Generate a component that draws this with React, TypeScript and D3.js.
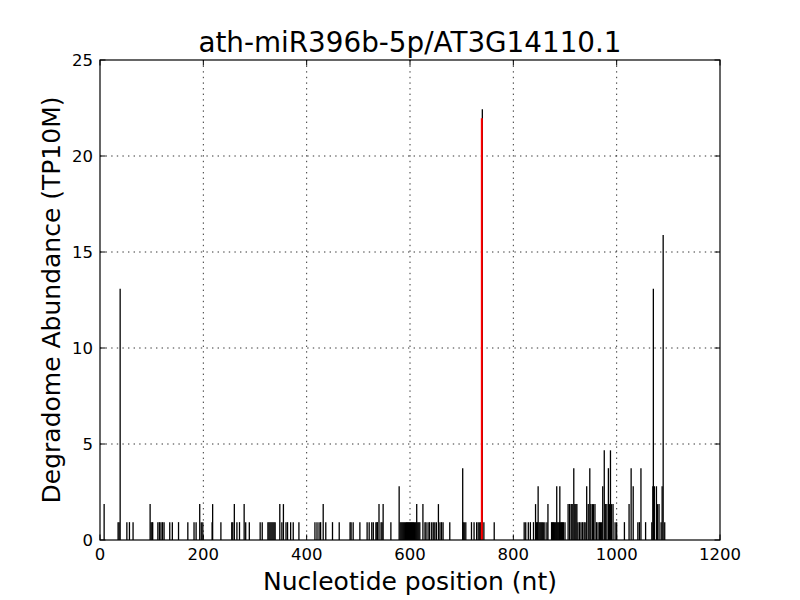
import React from "react";
import * as d3 from "d3";

const title = "ath-miR396b-5p/AT3G14110.1";
const xLabel = "Nucleotide position (nt)";
const yLabel = "Degradome Abundance (TP10M)";
const xTicks = [0, 200, 400, 600, 800, 1000, 1200];
const yTicks = [0, 5, 10, 15, 20, 25];

// nucleotide positions and abundance (TP10M)
const positions = [
  8, 35, 37, 39, 52, 57, 64, 97, 99, 101, 102, 112, 115, 118, 121, 124, 135, 140, 152, 170,
  182, 186, 193, 196, 199, 217, 218, 234, 255, 257, 260, 265, 270, 279, 282, 289, 310, 314,
  325, 327, 329, 331, 333, 335, 337, 339, 348, 352, 355, 360, 363, 369, 374, 385,
  416, 420, 424, 427, 432, 437, 450, 463, 484, 486, 490, 503, 517, 521, 526, 529,
  534, 536, 537, 540, 544, 546, 548, 563, 579,
  581, 583, 585, 587, 589, 591, 593, 595, 597, 599, 601, 603, 605, 607, 609, 611, 613, 615, 617, 619,
  625, 629, 631, 635, 638, 642, 645, 648, 651, 655, 658, 661, 664, 677, 702, 703, 705, 708,
  719, 724, 729, 732, 735, 737, 740, 743, 763,
  821, 824, 829, 833, 839, 843, 845, 847, 848, 850, 852, 854, 856, 858, 861, 865, 867,
  874, 876, 878, 880, 882, 884, 885, 887, 889, 890, 891, 893, 895, 897, 900,
  906, 909, 912, 914, 917, 919, 921, 923, 925, 928, 931, 934, 937, 939, 942, 945, 948,
  950, 953, 955, 958, 961, 964, 967, 969, 971, 973, 976, 978, 981, 984, 986, 988, 990, 993, 997,
  1000, 1015, 1024, 1028, 1032, 1041, 1044, 1047, 1056, 1068, 1070, 1071, 1073, 1077,
  1079, 1082, 1086, 1088, 1090, 1093,
];
const abundance = [
  1.87, 0.93, 0.93, 13.08, 0.93, 0.93, 0.93, 1.87, 0.93, 0.93, 0.93, 0.93, 0.93, 0.93, 0.93, 0.93, 0.93, 0.93, 0.93, 0.93,
  0.93, 0.93, 1.87, 0.93, 0.93, 0.93, 1.87, 0.93, 0.93, 0.93, 1.87, 0.93, 0.93, 1.87, 0.93, 0.93, 0.93, 0.93,
  0.93, 0.93, 0.93, 0.93, 0.93, 0.93, 0.93, 0.93, 1.87, 0.93, 1.87, 0.93, 0.93, 0.93, 0.93, 0.93,
  0.93, 0.93, 0.93, 0.93, 1.87, 0.93, 0.93, 0.93, 0.93, 0.93, 0.93, 0.93, 0.93, 0.93, 0.93, 0.93,
  0.93, 0.93, 0.93, 1.87, 0.93, 0.93, 1.87, 0.93, 2.8,
  0.93, 0.93, 0.93, 0.93, 0.93, 0.93, 0.93, 0.93, 0.93, 0.93, 0.93, 0.93, 0.93, 0.93, 0.93, 0.93, 1.87, 0.93, 0.93, 0.93,
  1.87, 0.93, 0.93, 0.93, 0.93, 0.93, 0.93, 0.93, 0.93, 1.87, 0.93, 0.93, 0.93, 0.93, 3.74, 0.93, 0.93, 0.93,
  0.93, 0.93, 0.93, 0.93, 0.93, 0.93, 22.43, 0.93, 0.93,
  0.93, 0.93, 0.93, 0.93, 0.93, 1.87, 0.93, 0.93, 2.8, 0.93, 0.93, 0.93, 0.93, 0.93, 0.93, 0.93, 1.87,
  0.93, 0.93, 0.93, 0.93, 0.93, 2.8, 0.93, 0.93, 0.93, 2.8, 0.93, 0.93, 0.93, 0.93, 0.93,
  1.87, 1.87, 1.87, 1.87, 3.74, 1.87, 1.87, 1.87, 0.93, 0.93, 0.93, 0.93, 0.93, 0.93, 2.8, 1.87, 3.74,
  1.87, 1.87, 1.87, 1.87, 0.93, 0.93, 0.93, 0.93, 0.93, 2.8, 4.67, 1.87, 1.87, 3.74, 1.87, 4.67, 1.87, 1.87, 0.93,
  0.93, 0.93, 1.87, 3.74, 2.8, 0.93, 0.93, 3.74, 0.93, 0.93, 2.8, 13.08, 2.8, 2.8,
  1.87, 1.87, 0.93, 2.8, 15.89, 0.93,
];
const targetPosition = [740];
const targetAbundance = [21.96];

const W = 800;
const H = 600;
const left = 100, right = 720, top = 60, bottom = 540;

export default function App() {
  const x = d3.scaleLinear().domain([0, 1200]).range([left, right]);
  const y = d3.scaleLinear().domain([0, 25]).range([bottom, top]);
  const font = "'DejaVu Sans', sans-serif";
  const tickLen = 5.5;
  return (
    <svg width={W} height={H} style={{ position: "absolute", left: 0, top: 0, background: "#fff" }}>
      <rect x={0} y={0} width={W} height={H} fill="#fff" />
      {/* grid */}
      {xTicks.slice(1, -1).map((t) => (
        <line key={"gx" + t} x1={x(t)} x2={x(t)} y1={top} y2={bottom} stroke="#000" strokeWidth={0.8} strokeDasharray="1.4,4.2" />
      ))}
      {yTicks.slice(1, -1).map((t) => (
        <line key={"gy" + t} x1={left} x2={right} y1={y(t)} y2={y(t)} stroke="#000" strokeWidth={0.8} strokeDasharray="1.4,4.2" />
      ))}
      {/* bars */}
      {positions.map((p, i) => (
        <line key={"b" + i} x1={x(p)} x2={x(p)} y1={y(0)} y2={y(abundance[i])} stroke="#000" strokeWidth={1.3} />
      ))}
      {targetPosition.map((p, i) => (
        <line key={"r" + i} x1={x(p) - 0.5} x2={x(p) - 0.5} y1={y(0)} y2={y(targetAbundance[i])} stroke="#ff0000" strokeWidth={2} />
      ))}
      {/* ticks */}
      {xTicks.map((t) => (
        <g key={"tx" + t}>
          <line x1={x(t)} x2={x(t)} y1={bottom} y2={bottom - tickLen} stroke="#000" strokeWidth={1} />
          <line x1={x(t)} x2={x(t)} y1={top} y2={top + tickLen} stroke="#000" strokeWidth={1} />
          <text x={x(t)} y={560} textAnchor="middle" fontFamily={font} fontSize={16.5}>{t}</text>
        </g>
      ))}
      {yTicks.map((t) => (
        <g key={"ty" + t}>
          <line x1={left} x2={left + tickLen} y1={y(t)} y2={y(t)} stroke="#000" strokeWidth={1} />
          <line x1={right} x2={right - tickLen} y1={y(t)} y2={y(t)} stroke="#000" strokeWidth={1} />
          <text x={93} y={y(t) + 6} textAnchor="end" fontFamily={font} fontSize={16.5}>{t}</text>
        </g>
      ))}
      <rect x={left} y={top} width={right - left} height={bottom - top} fill="none" stroke="#000" strokeWidth={1.2} />
      <text x={410} y={52} textAnchor="middle" fontFamily={font} fontSize={27.8}>{title}</text>
      <text x={410} y={590} textAnchor="middle" fontFamily={font} fontSize={25}>{xLabel}</text>
      <text transform={`translate(60,300) rotate(-90)`} textAnchor="middle" fontFamily={font} fontSize={25}>{yLabel}</text>
    </svg>
  );
}
